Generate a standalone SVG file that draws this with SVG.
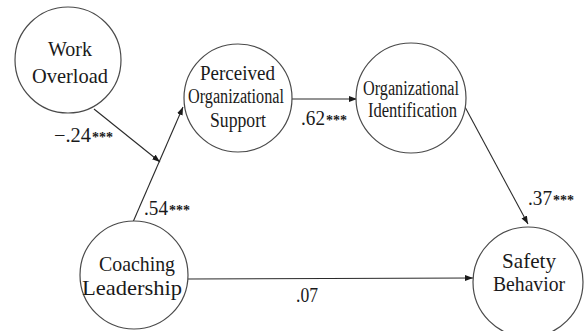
<svg xmlns="http://www.w3.org/2000/svg" width="585" height="331" viewBox="0 0 585 331">
  <style>
    .node { fill: #ffffff; stroke: #4a4a4a; stroke-width: 1.2; }
    .lbl { font-family: "Liberation Serif", "DejaVu Serif", "Times New Roman", serif; fill: #1a1a1a; text-anchor: middle; }
    .big { font-size: 22px; }
    .mid { font-size: 20px; }
    .coef { font-family: "Liberation Serif", "DejaVu Serif", "Times New Roman", serif; font-size: 20px; fill: #1a1a1a; }
    .star { font-size: 14px; font-weight: bold; }
    .edge { stroke: #2a2a2a; stroke-width: 1.1; fill: none; marker-end: url(#arrow); }
  </style>
  <defs>
    <marker id="arrow" markerUnits="userSpaceOnUse" markerWidth="9" markerHeight="7" refX="8" refY="3" orient="auto">
      <path d="M0,0 L8,3 L0,6 z" fill="#1a1a1a"/>
    </marker>
  </defs>

  <rect width="585" height="331" fill="#ffffff"/>

  <!-- connectors -->
  <g id="connectors">
    <line class="edge" x1="94" y1="109" x2="160" y2="162"/>
    <line class="edge" x1="133" y1="222" x2="183" y2="107"/>
    <line class="edge" x1="292" y1="99" x2="357" y2="99"/>
    <line class="edge" x1="465" y1="107" x2="528" y2="224"/>
    <line class="edge" x1="188" y1="279" x2="473" y2="278"/>
  </g>

  <!-- path coefficients: value, then stars set slightly smaller -->
  <g id="coefficients">
    <text class="coef" y="142"><tspan x="54" textLength="37" lengthAdjust="spacingAndGlyphs">−.24</tspan><tspan class="star" x="92" textLength="21" lengthAdjust="spacingAndGlyphs">***</tspan></text>
    <text class="coef" y="125"><tspan x="301" textLength="24" lengthAdjust="spacingAndGlyphs">.62</tspan><tspan class="star" x="326" textLength="21" lengthAdjust="spacingAndGlyphs">***</tspan></text>
    <text class="coef" y="215"><tspan x="144" textLength="24" lengthAdjust="spacingAndGlyphs">.54</tspan><tspan class="star" x="169" textLength="21" lengthAdjust="spacingAndGlyphs">***</tspan></text>
    <text class="coef" y="205"><tspan x="528" textLength="24" lengthAdjust="spacingAndGlyphs">.37</tspan><tspan class="star" x="553" textLength="21" lengthAdjust="spacingAndGlyphs">***</tspan></text>
    <text class="coef" x="296" y="302" textLength="22" lengthAdjust="spacingAndGlyphs">.07</text>
  </g>

  <g id="work-overload">
    <circle class="node" cx="68" cy="60" r="53"/>
    <text class="lbl big" x="70" y="56" textLength="44" lengthAdjust="spacingAndGlyphs">Work</text>
    <text class="lbl big" x="70" y="83" textLength="76" lengthAdjust="spacingAndGlyphs">Overload</text>
  </g>

  <g id="perceived-organizational-support">
    <circle class="node" cx="238" cy="98" r="54"/>
    <text class="lbl mid" x="237.5" y="80" textLength="75" lengthAdjust="spacingAndGlyphs">Perceived</text>
    <text class="lbl mid" x="236" y="103" textLength="96" lengthAdjust="spacingAndGlyphs">Organizational</text>
    <text class="lbl mid" x="238" y="127" textLength="56" lengthAdjust="spacingAndGlyphs">Support</text>
  </g>

  <g id="organizational-identification">
    <circle class="node" cx="411" cy="98" r="55"/>
    <text class="lbl mid" x="411" y="95" textLength="96" lengthAdjust="spacingAndGlyphs">Organizational</text>
    <text class="lbl mid" x="412.5" y="117" textLength="89" lengthAdjust="spacingAndGlyphs">Identification</text>
  </g>

  <g id="coaching-leadership">
    <circle class="node" cx="134" cy="275" r="54"/>
    <text class="lbl big" x="137" y="271" textLength="76" lengthAdjust="spacingAndGlyphs">Coaching</text>
    <text class="lbl big" x="132" y="295" textLength="100" lengthAdjust="spacingAndGlyphs">Leadership</text>
  </g>

  <g id="safety-behavior">
    <circle class="node" cx="528" cy="282" r="55"/>
    <text class="lbl big" x="529" y="268" textLength="54" lengthAdjust="spacingAndGlyphs">Safety</text>
    <text class="lbl big" x="529" y="291" textLength="72" lengthAdjust="spacingAndGlyphs">Behavior</text>
  </g>
</svg>
